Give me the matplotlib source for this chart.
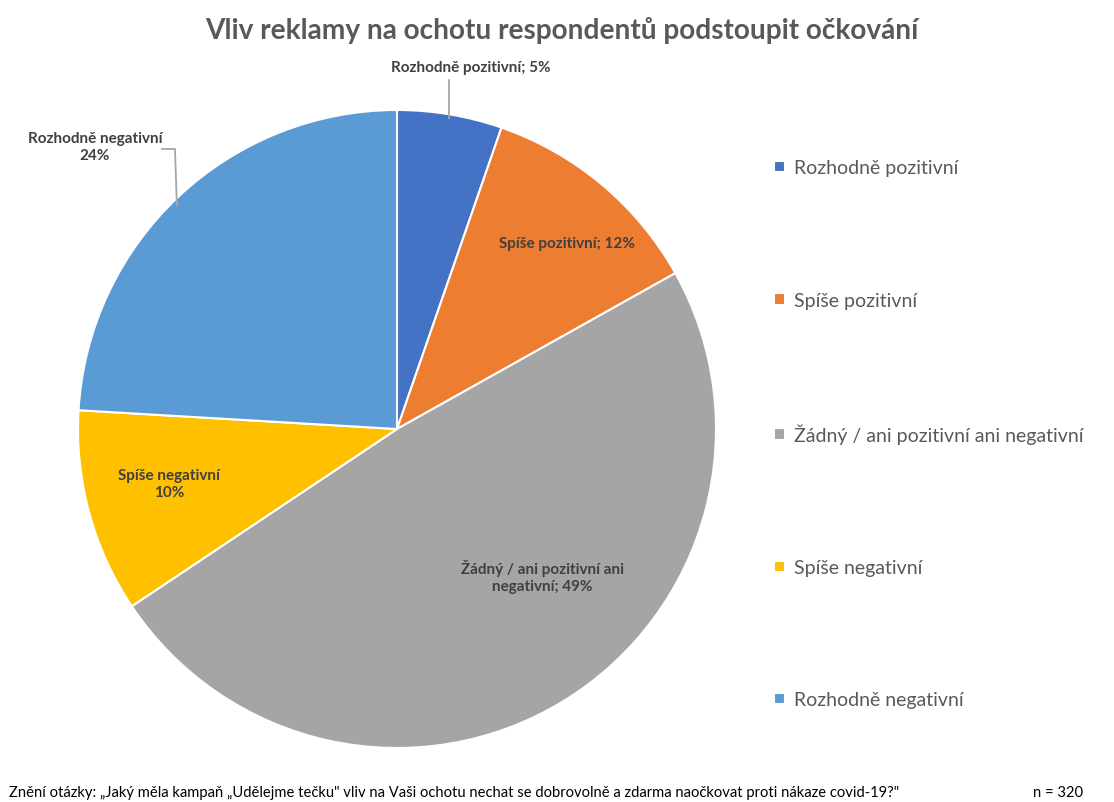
import numpy as np
import matplotlib
matplotlib.use("Agg")
from matplotlib import pyplot as plt

plt.rcParams['font.family'] = ['Lato', 'DejaVu Sans']

# data (counts, n = 320)
categories = ['Rozhodně pozitivní', 'Spíše pozitivní', 'Žádný / ani pozitivní ani negativní',
              'Spíše negativní', 'Rozhodně negativní']
counts = [17, 37, 156, 33, 77]
label_texts = ['Rozhodně pozitivní; 5%', 'Spíše pozitivní; 12%',
               'Žádný / ani pozitivní ani\nnegativní; 49%', 'Spíše negativní\n10%',
               'Rozhodně negativní\n24%']
colors = ['#4472C4', '#ED7D31', '#A5A5A5', '#FFC000', '#5B9BD5']

fig = plt.figure(figsize=(11.14, 8.03), dpi=100)
ax = fig.add_axes([78 / 1114, 54 / 803, 638 / 1114, 638 / 803])

wedges, _ = ax.pie(counts, colors=colors, startangle=90, counterclock=False,
                   radius=1.0, wedgeprops=dict(edgecolor='white', linewidth=1.5))
ax.set_xlim(-1, 1)
ax.set_ylim(-1, 1)
ax.set_aspect('equal')
ax.axis('off')

# data labels
lab_pos = [(0.232, 1.135), (0.533, 0.583), (0.455, -0.46), (-0.715, -0.17), (-0.947, 0.885)]
for txt, (x, y) in zip(label_texts, lab_pos):
    ax.text(x, y, txt, ha='center', va='center', fontsize=11, fontweight='bold',
            color='#404040', linespacing=1.3, clip_on=False)

# leader lines
ax.plot([0.163, 0.163], [1.095, 0.975], color='#a6a6a6', lw=1.3, clip_on=False)
ax.plot([-0.737, -0.696, -0.69], [0.878, 0.878, 0.70], color='#a6a6a6', lw=1.3, clip_on=False)

fig.text(0.504, 0.962, 'Vliv reklamy na ochotu respondentů podstoupit očkování',
         ha='center', va='center', fontsize=20.2, fontweight='bold', color='#595959')

leg = fig.legend(wedges, categories, loc='upper left', bbox_to_anchor=(0.679, 0.822),
                 frameon=False, fontsize=14, labelspacing=5.92, handlelength=0.55,
                 handleheight=0.55, handletextpad=0.5)
for t in leg.get_texts():
    t.set_color('#595959')

fig.text(0.008, 0.013, 'Znění otázky: „Jaký měla kampaň „Udělejme tečku" vliv na Vaši ochotu nechat se '
         'dobrovolně a zdarma naočkovat proti nákaze covid-19?"',
         ha='left', va='center', fontsize=10.6, color='black')
fig.text(0.972, 0.013, 'n = 320', ha='right', va='center', fontsize=10.6, color='black')

fig.savefig('out.png', dpi=100)
